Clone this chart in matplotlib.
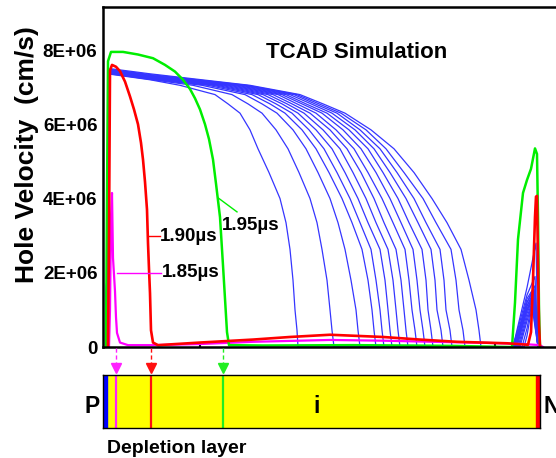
import matplotlib
matplotlib.use('Agg')
import matplotlib.pyplot as plt

plt.rcParams['font.family'] = ['Liberation Sans', 'DejaVu Sans']
plt.rcParams['font.weight'] = 'bold'

# position along the device (a.u., 0 = P side, 437 = N side), velocity in 1E+06 cm/s
mag_x = [6, 7, 8, 9, 10, 12, 13, 14, 17, 25, 50, 97, 150, 227, 280, 330, 385, 420, 437, 440]
mag_v = [0, 1.0, 3.5, 4.15, 2.4, 1.5, 0.8, 0.38, 0.12, 0.05, 0.05, 0.08, 0.14, 0.19, 0.17, 0.14, 0.11, 0.08, 0.05, 0.0]

red_x = [5, 6, 7, 9, 13, 17, 22, 27, 31, 35, 38, 40, 42, 44, 45, 46, 47, 48, 50, 55,
         97, 150, 187, 227, 280, 317, 354, 404,
         425, 428, 430, 432, 433, 434, 435, 436, 437]
red_v = [0, 3.0, 7.45, 7.6, 7.55, 7.43, 7.15, 6.75, 6.4, 6.0, 5.5, 5.05, 4.45, 3.7, 2.8, 2.1, 1.45, 0.45, 0.12, 0.05,
         0.12, 0.2, 0.27, 0.33, 0.27, 0.2, 0.14, 0.1,
         0.06, 0.4, 1.8, 3.5, 4.05, 4.07, 2.3, 0.6, 0.02]

green_x = [3, 4, 5, 8, 20, 35, 50, 62, 72, 80, 87, 92, 97, 102, 106, 110, 113, 117, 120, 122, 124, 126,
           160, 250, 300, 350, 405,
           409, 412, 415, 420, 424, 428, 432, 434, 435, 436, 437]
green_v = [0, 4.0, 7.7, 7.95, 7.95, 7.88, 7.78, 7.6, 7.42, 7.2, 6.95, 6.7, 6.4, 6.0, 5.6, 5.05, 4.4, 3.5, 2.2, 1.3, 0.4, 0.05,
           0.04, 0.05, 0.04, 0.03, 0.0,
           0.0, 1.2, 2.9, 4.15, 4.5, 4.8, 5.35, 5.2, 3.5, 1.0, 0.0]

# blue snapshots: peak (x=7), value at x=47, then positions where each curve crosses the levels below
blue_peak = [7.35, 7.36, 7.37, 7.38, 7.39, 7.4, 7.41, 7.42, 7.43, 7.44, 7.45, 7.46, 7.47, 7.48, 7.5]
blue_v47 = [7.2, 7.21, 7.22, 7.23, 7.24, 7.25, 7.26, 7.27, 7.28, 7.29, 7.3, 7.31, 7.32, 7.34, 7.36]
blue_levels = [7.05, 6.8, 6.55, 6.3, 5.85, 5.34, 4.7, 4.0, 3.35, 2.63, 1.8, 1.0, 0.45, 0.0]
blue_cross = [
    [77, 90, 99, 105, 110, 114, 118, 122, 126, 130, 134, 138, 141, 144, 147],
    [112, 129, 142, 149, 155, 160, 165, 170, 175, 179, 183, 187, 191, 194, 197],
    [125, 145, 159, 167, 173, 179, 184, 189, 194, 199, 203, 208, 212, 216, 220],
    [137, 159, 174, 182, 189, 195, 201, 207, 213, 219, 224, 229, 234, 238, 242],
    [147, 173, 190, 199, 206, 213, 220, 227, 233, 240, 246, 252, 257, 263, 268],
    [155, 185, 203, 213, 221, 229, 237, 244, 251, 258, 265, 271, 277, 283, 291],
    [166, 196, 215, 226, 234, 242, 250, 258, 265, 273, 280, 287, 294, 301, 311],
    [177, 207, 227, 239, 247, 255, 263, 271, 279, 287, 295, 303, 311, 320, 329],
    [183, 214, 235, 249, 257, 265, 273, 281, 290, 298, 306, 315, 323, 333, 344],
    [187, 219, 242, 259, 268, 277, 285, 293, 302, 310, 319, 328, 337, 348, 358],
    [190, 224, 248, 265, 273, 282, 290, 298, 306, 314, 323, 332, 341, 353, 366],
    [192, 227, 253, 269, 277, 285, 293, 301, 309, 317, 325, 334, 343, 356, 373],
    [194, 229, 255, 271, 279, 287, 295, 303, 312, 320, 328, 338, 347, 360, 376],
    [195, 231, 257, 273, 281, 289, 297, 305, 314, 322, 330, 340, 349, 362, 378],
]
spike_start = [421, 419, 417, 416, 415, 414, 413, 413, 412, 412, 411, 411, 410, 410, 409]
spike_mid = [0.3, 0.5, 0.7, 0.8, 0.9, 1.0, 1.0, 1.1, 1.1, 1.2, 1.2, 1.3, 1.4, 1.6, 1.0]
spike_top_x = [429, 429, 430, 430, 430, 430, 431, 431, 431, 431, 431, 432, 432, 433, 430]
spike_peak = [1.1, 1.2, 1.25, 1.3, 1.35, 1.4, 1.45, 1.5, 1.5, 1.55, 1.6, 1.65, 1.9, 2.8, 1.3]

ytick_vals = [0, 2, 4, 6, 8]
ytick_labels = ['0', '2E+06', '4E+06', '6E+06', '8E+06']

depletion_edges = [13, 48, 120]
edge_colors = ['#ff22ff', '#ff1010', '#22ee22']

W, H = 556, 458
fig = plt.figure(figsize=(W / 100, H / 100), dpi=100)
ax = fig.add_axes([103 / W, 111 / H, 453 / W, 340 / H])

for k in range(len(blue_peak)):
    xs = [3, 5, 7, 47] + [row[k] for row in blue_cross] + [spike_start[k], 424, spike_top_x[k], 435, 437]
    vs = [0, 5.5, blue_peak[k], blue_v47[k]] + blue_levels + [0, spike_mid[k], spike_peak[k], 0, 0]
    ax.plot(xs, vs, color='#3535ff', lw=0.9)

ax.plot(mag_x, mag_v, color='#ff00ff', lw=1.6)
ax.plot(green_x, green_v, color='#00ee00', lw=1.8)
ax.plot(red_x, red_v, color='#ff0000', lw=1.9)

# leader lines and time labels
ax.plot([45, 57], [2.99, 2.99], color='#ff0000', lw=1.0)
ax.plot([14, 58], [1.99, 1.99], color='#ff00ff', lw=1.0)
ax.plot([115, 134], [4.02, 3.64], color='#00ee00', lw=1.0)
ax.text(57, 2.99, '1.90µs', fontsize=13.5, ha='left', va='center')
ax.text(59, 2.0, '1.85µs', fontsize=13.5, ha='left', va='center')
ax.text(119, 3.26, '1.95µs', fontsize=13.5, ha='left', va='center')

ax.set_xlim(0, 453)
ax.set_ylim(0, 9.16)
ax.set_yticks(ytick_vals)
ax.set_yticklabels(ytick_labels)
ax.tick_params(axis='y', length=0, pad=4, labelsize=13.5)
ax.set_xticks([97, 392])
ax.set_xticklabels([])
ax.tick_params(axis='x', direction='in', length=2.5, width=1.5)
ax.spines['right'].set_visible(False)
for s in ['left', 'top', 'bottom']:
    ax.spines[s].set_linewidth(1.8)

fig.text(357 / W, 1 - 52 / H, 'TCAD Simulation', fontsize=16, ha='center', va='center')
fig.text(27 / W, 1 - 155 / H, 'Hole Velocity  (cm/s)', fontsize=19, rotation=90, ha='center', va='center')

# device sketch
bar = fig.add_axes([103 / W, 1 - 428 / H, 437 / W, 53 / H])
bar.set_xlim(0, 437)
bar.set_ylim(0, 1)
bar.set_facecolor('#ffff00')
bar.set_xticks([])
bar.set_yticks([])
for s in bar.spines.values():
    s.set_linewidth(1.0)
bar.axvspan(0, 4, color='#0000ff')
bar.axvspan(433, 437, color='#ff0000')
for x, c in zip(depletion_edges, edge_colors):
    bar.axvline(x, color=c, lw=1.6)
    bar.plot([x, x], [1.51, 1.22], ls=(0, (3, 2)), lw=1.0, color=c, clip_on=False)
    bar.plot(x, 1.13, marker='v', ms=7.5, color=c, clip_on=False)

fig.text(92 / W, 1 - 413 / H, 'P', fontsize=16.5, ha='center', va='baseline')
fig.text(317 / W, 1 - 413 / H, 'i', fontsize=16.5, ha='center', va='baseline')
fig.text(552 / W, 1 - 413 / H, 'N', fontsize=16.5, ha='center', va='baseline')
fig.text(107 / W, 1 - 453 / H, 'Depletion layer', fontsize=14, ha='left', va='baseline')

fig.savefig('out.png', dpi=100)
